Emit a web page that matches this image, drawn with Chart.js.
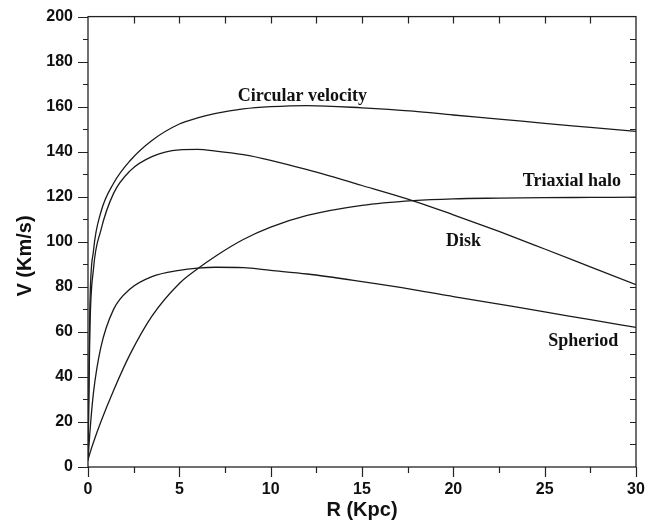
<!DOCTYPE html>
<html>
<head>
<meta charset="utf-8">
<script src="https://cdn.jsdelivr.net/npm/chart.js@4.4.1/dist/chart.umd.min.js"></script>
<style>
  html, body { margin: 0; padding: 0; background: #fff; }
  #wrap { width: 656px; height: 529px; position: relative; }
</style>
</head>
<body>
<div id="wrap"><canvas id="rotationCurve"></canvas></div>
<script>
// radius samples (kpc) shared by every component
const radius = [0, 0.1, 0.3, 0.7, 1.4, 2.3, 3.5, 5, 6, 7, 8.5, 10, 12, 15, 17.8, 20, 22.5, 25, 27.5, 30];

// velocities (km/s)
const circularVelocity = [3, 70, 96, 113, 126, 136, 145, 152.3, 155, 157, 159, 160, 160.5, 159.5, 158, 156.3, 154.5, 152.6, 150.8, 149];
const diskVelocity     = [3, 60, 88, 105, 121.5, 131.5, 137.8, 140.8, 141, 140.3, 138.7, 136.2, 132, 125, 118.2, 112, 104.6, 96.8, 88.9, 81];
const spheroidVelocity = [3, 15, 33, 53, 70, 79, 84.5, 87.3, 88.3, 88.7, 88.5, 87.3, 85.7, 82.3, 78.8, 75.7, 72.3, 68.9, 65.4, 62];
const haloVelocity     = [3, 6, 11, 20, 34, 50, 67, 81.5, 88, 93.7, 101, 106.5, 111.7, 116.2, 118.3, 119.1, 119.4, 119.6, 119.7, 119.8];

// curve labels: text, left edge R, middle V
const curveLabels = [
    { text: 'Circular velocity', r: 8.2, v: 164.5 },
    { text: 'Triaxial halo', r: 23.8, v: 127 },
    { text: 'Disk', r: 19.6, v: 100 },
    { text: 'Spheriod', r: 25.2, v: 56 }
];

const toPoints = (vals) => vals.map((v, i) => ({ x: radius[i], y: v }));

const makeSet = (label, vals) => ({
    label: label,
    data: toPoints(vals),
    borderColor: '#1a1a1a',
    borderWidth: 1.3,
    pointRadius: 0,
    fill: false,
    cubicInterpolationMode: 'monotone'
});

// frame, tick marks, y title and in-plot text
const framePlugin = {
    id: 'frame',
    afterDraw(chart) {
        const { ctx, chartArea: a, scales: { x, y } } = chart;
        ctx.save();
        ctx.strokeStyle = '#222';
        ctx.lineWidth = 1.3;
        ctx.strokeRect(a.left, a.top, a.right - a.left, a.bottom - a.top);

        ctx.lineWidth = 1.2;
        ctx.beginPath();
        for (let r = 0; r <= 30; r += 2.5) {
            const px = Math.round(x.getPixelForValue(r)) + 0.5;
            const major = r % 5 === 0;
            ctx.moveTo(px, a.bottom);
            ctx.lineTo(px, a.bottom + (major ? 10 : 6));
            if (r > 0 && r < 30) {
                ctx.moveTo(px, a.top);
                ctx.lineTo(px, a.top + 7);
            }
        }
        for (let v = 0; v <= 200; v += 10) {
            const py = Math.round(y.getPixelForValue(v)) + 0.5;
            const major = v % 20 === 0;
            ctx.moveTo(a.left, py);
            ctx.lineTo(a.left - (major ? 10 : 5), py);
            if (v > 0 && v < 200) {
                ctx.moveTo(a.right, py);
                ctx.lineTo(a.right - 6, py);
            }
        }
        ctx.stroke();

        // vertical axis title
        ctx.fillStyle = '#111';
        ctx.save();
        ctx.translate(25, 256);
        ctx.rotate(-Math.PI / 2);
        ctx.font = 'bold 20px "Liberation Sans"';
        ctx.textAlign = 'center';
        ctx.textBaseline = 'middle';
        ctx.fillText('V (Km/s)', 0, 0);
        ctx.restore();

        ctx.font = 'bold 18px "Liberation Serif"';
        ctx.textBaseline = 'middle';
        ctx.textAlign = 'left';
        curveLabels.forEach(l => {
            ctx.fillText(l.text, x.getPixelForValue(l.r), y.getPixelForValue(l.v));
        });
        ctx.restore();
    }
};

new Chart(document.getElementById('rotationCurve').getContext('2d'), {
    type: 'line',
    data: {
        datasets: [
            makeSet('Circular velocity', circularVelocity),
            makeSet('Disk', diskVelocity),
            makeSet('Spheriod', spheroidVelocity),
            makeSet('Triaxial halo', haloVelocity)
        ]
    },
    options: {
        responsive: true,
        maintainAspectRatio: false,
        animation: false,
        layout: { padding: { top: 16, right: 20, left: 0, bottom: 0 } },
        plugins: {
            legend: { display: false },
            tooltip: { enabled: false }
        },
        scales: {
            x: {
                type: 'linear',
                min: 0,
                max: 30,
                grid: { display: false },
                border: { display: false },
                ticks: {
                    stepSize: 5,
                    padding: 5,
                    color: '#111',
                    font: { family: 'Liberation Sans', size: 16, weight: 'bold' }
                },
                title: {
                    display: true,
                    text: 'R (Kpc)',
                    color: '#111',
                    padding: 7,
                    font: { family: 'Liberation Sans', size: 20, weight: 'bold' }
                },
                afterFit: (s) => { s.height = 62; }
            },
            y: {
                min: 0,
                max: 200,
                grid: { display: false },
                border: { display: false },
                ticks: {
                    stepSize: 20,
                    padding: 7,
                    color: '#111',
                    font: { family: 'Liberation Sans', size: 16, weight: 'bold' }
                },
                afterFit: (s) => { s.width = 88; }
            }
        }
    },
    plugins: [framePlugin]
});
</script>
</body>
</html>
